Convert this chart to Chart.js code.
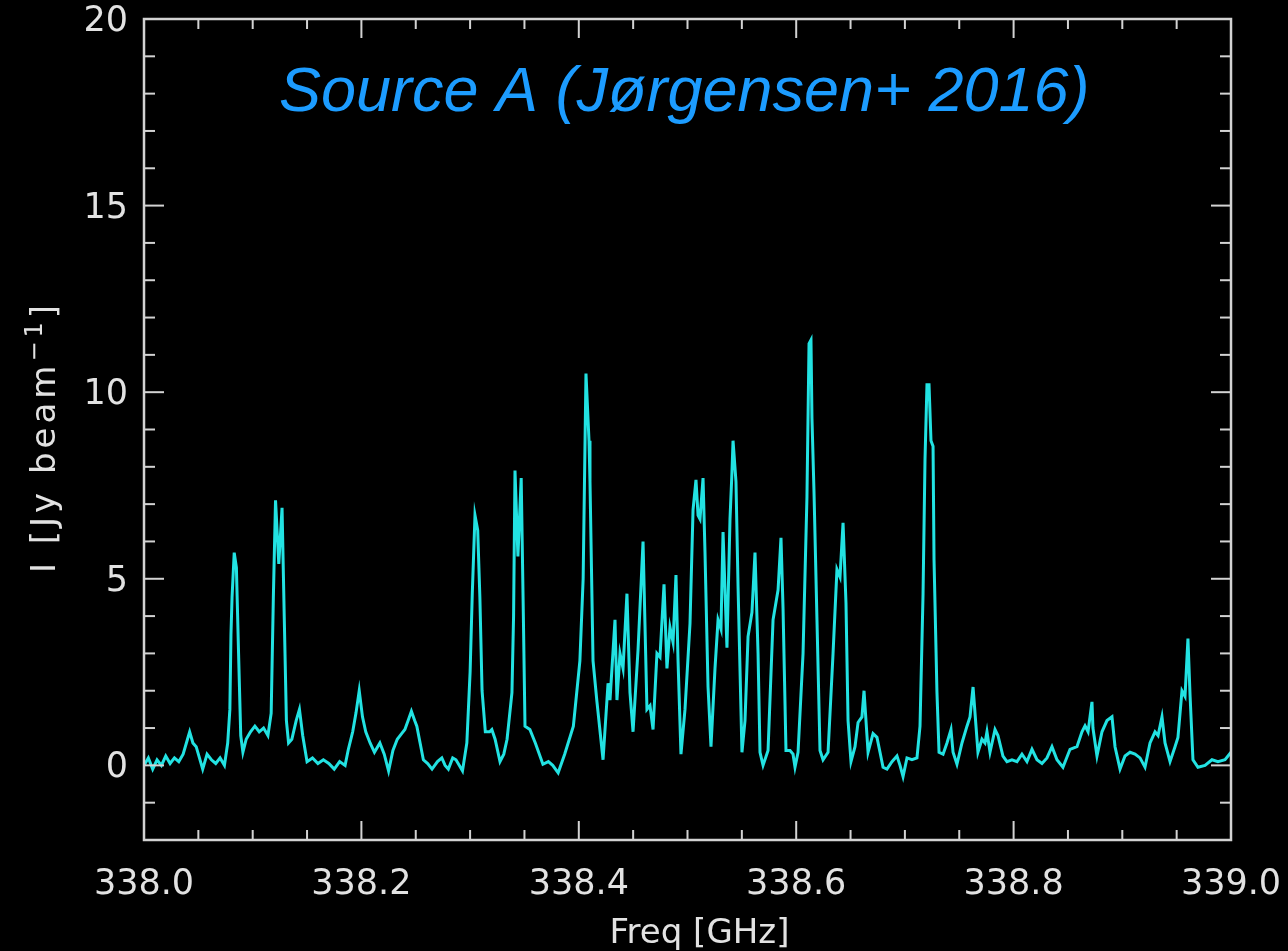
<!DOCTYPE html>
<html>
<head>
<meta charset="utf-8">
<title>Source A spectrum</title>
<script src="https://cdn.jsdelivr.net/npm/chart.js@4.4.1/dist/chart.umd.min.js"></script>
<style>
  html, body { margin: 0; padding: 0; background: #000; }
  #wrap { width: 1288px; height: 951px; }
</style>
</head>
<body>
<div id="wrap"><canvas id="spec" width="1288" height="951"></canvas></div>
<script>
// Spectre : fréquence (GHz) et intensité (Jy/beam)
var freq = [
  338.000, 338.004, 338.008, 338.012, 338.016, 338.020, 338.024, 338.028, 338.032, 338.036,
  338.040, 338.042, 338.045, 338.048, 338.052, 338.054, 338.058, 338.062, 338.066, 338.070,
  338.074, 338.077, 338.079, 338.080, 338.081, 338.083, 338.085, 338.087, 338.089, 338.091,
  338.094, 338.098, 338.102, 338.106, 338.110, 338.114, 338.117, 338.119, 338.121, 338.124,
  338.127, 338.129, 338.131, 338.133, 338.136, 338.140, 338.143, 338.146, 338.150, 338.155,
  338.160, 338.165, 338.170, 338.175, 338.180, 338.185, 338.188, 338.192, 338.195, 338.198,
  338.201, 338.204, 338.208, 338.212, 338.217, 338.221, 338.225, 338.229, 338.233, 338.237,
  338.240, 338.243, 338.246, 338.249, 338.251, 338.254, 338.257, 338.261, 338.265, 338.270,
  338.274, 338.277, 338.280, 338.284, 338.287, 338.290, 338.293, 338.297, 338.300, 338.302,
  338.3045, 338.307, 338.309, 338.311, 338.314, 338.318, 338.320, 338.323, 338.3275, 338.331,
  338.334, 338.3385, 338.340, 338.3413, 338.344, 338.347, 338.349, 338.3505, 338.355, 338.360,
  338.367, 338.372, 338.376, 338.381, 338.387, 338.395, 338.401, 338.404, 338.4066, 338.4094,
  338.4103, 338.4131, 338.4167, 338.4223, 338.4269, 338.4287, 338.4333, 338.4351, 338.4379, 338.4407,
  338.4443, 338.4471, 338.4499, 338.4545, 338.4591, 338.4627, 338.4655, 338.4683, 338.4719, 338.4747,
  338.4784, 338.4811, 338.4839, 338.4867, 338.4894, 338.4913, 338.4940, 338.4977, 338.5023, 338.5051,
  338.5078, 338.5097, 338.5115, 338.5143, 338.5161, 338.5189, 338.5216, 338.5253, 338.5281, 338.5308,
  338.5327, 338.5363, 338.5391, 338.5409, 338.5419, 338.5446, 338.5465, 338.5501, 338.5529, 338.5557,
  338.5593, 338.5621, 338.5649, 338.5667, 338.5695, 338.5741, 338.5787, 338.5833, 338.5860, 338.5879,
  338.5906, 338.5943, 338.5971, 338.5989, 338.6017, 338.6063, 338.6099, 338.6118, 338.6136, 338.6145,
  338.6164, 338.6191, 338.6219, 338.6247, 338.6293, 338.6339, 338.6375, 338.6403, 338.6431, 338.6458,
  338.6477, 338.6504, 338.6541, 338.6569, 338.6605, 338.6624, 338.6651, 338.6661, 338.6707, 338.6743,
  338.6771, 338.6799, 338.6835, 338.6881, 338.6927, 338.6955, 338.6983, 338.7019, 338.7065, 338.7111,
  338.7139, 338.7167, 338.7185, 338.7203, 338.7222, 338.7240, 338.7259, 338.7268, 338.7295, 338.7314,
  338.7351, 338.7387, 338.7424, 338.7443, 338.7479, 338.7525, 338.7571, 338.7599, 338.7627, 338.7654,
  338.7672, 338.7709, 338.7737, 338.7755, 338.7783, 338.7829, 338.7856, 338.7902, 338.7939, 338.7985,
  338.8031, 338.8077, 338.8123, 338.8169, 338.8215, 338.8261, 338.8307, 338.8353, 338.8399, 338.8454,
  338.8519, 338.8583, 338.8629, 338.8657, 338.8685, 338.8721, 338.8730, 338.8767, 338.8813, 338.8859,
  338.8905, 338.8933, 338.8979, 338.9025, 338.9071, 338.9117, 338.9163, 338.9209, 338.9255, 338.9301,
  338.9329, 338.9365, 338.9393, 338.9439, 338.9485, 338.9512, 338.9549, 338.9577, 338.9604, 338.9623,
  338.9650, 338.9696, 338.9761, 338.9825, 338.9880, 338.9945, 339.0000
];

var intensity = [
  0.0, 0.2, -0.1, 0.15, 0.0, 0.25, 0.05, 0.2, 0.1, 0.3,
  0.7, 0.9, 0.6, 0.5, 0.1, -0.1, 0.3, 0.15, 0.05, 0.2,
  0.0, 0.6, 1.5, 3.5, 4.5, 5.7, 5.3, 3.0, 0.8, 0.35,
  0.7, 0.9, 1.05, 0.9, 1.0, 0.8, 1.4, 4.5, 7.1, 5.4,
  6.9, 4.0, 1.2, 0.6, 0.7, 1.2, 1.5, 0.8, 0.1, 0.2,
  0.05, 0.15, 0.05, -0.1, 0.1, 0.0, 0.43, 0.9, 1.4, 2.0,
  1.3, 0.9, 0.6, 0.35, 0.6, 0.3, -0.15, 0.4, 0.7, 0.85,
  0.96, 1.2, 1.45, 1.2, 1.05, 0.6, 0.15, 0.05, -0.1, 0.1,
  0.2, 0.0, -0.1, 0.2, 0.15, 0.0, -0.15, 0.6, 2.5, 4.6,
  6.7, 6.3, 4.5, 2.0, 0.9, 0.9, 0.96, 0.7, 0.1, 0.3,
  0.7, 1.95, 4.0, 7.9, 5.6, 7.7, 4.0, 1.05, 0.96, 0.6,
  0.03, 0.1, 0.0, -0.2, 0.3, 1.05, 2.8, 5.0, 10.5, 8.7,
  7.6, 2.8, 1.7, 0.15, 2.2, 1.75, 3.9, 1.75, 3.0, 2.6,
  4.6, 1.95, 0.9, 3.1, 6.0, 1.5, 1.6, 0.96, 3.0, 2.9,
  4.85, 2.6, 3.7, 3.3, 5.1, 2.8, 0.3, 1.5, 3.8, 6.85,
  7.65, 6.7, 6.6, 7.7, 5.7, 2.1, 0.5, 2.6, 3.9, 3.65,
  6.25, 3.15, 6.6, 7.85, 8.7, 7.6, 4.8, 0.35, 1.2, 3.45,
  4.1, 5.7, 3.0, 0.35, 0.0, 0.4, 3.9, 4.7, 6.1, 4.2,
  0.4, 0.4, 0.3, -0.05, 0.35, 3.0, 7.2, 11.3, 11.4, 9.3,
  7.3, 3.9, 0.4, 0.15, 0.35, 3.0, 5.25, 5.05, 6.5, 4.35,
  1.2, 0.1, 0.5, 1.15, 1.3, 2.0, 0.8, 0.35, 0.85, 0.75,
  0.35, -0.05, -0.1, 0.1, 0.25, 0.0, -0.3, 0.2, 0.15, 0.2,
  1.05, 4.6, 8.2, 10.2, 10.2, 8.7, 8.55, 5.5, 1.95, 0.35,
  0.3, 0.6, 0.96, 0.35, 0.03, 0.6, 1.05, 1.3, 2.1, 1.05,
  0.35, 0.7, 0.6, 0.9, 0.35, 0.96, 0.8, 0.25, 0.1, 0.15,
  0.1, 0.3, 0.1, 0.43, 0.15, 0.05, 0.2, 0.5, 0.15, -0.05,
  0.43, 0.5, 0.9, 1.06, 0.9, 1.7, 1.0, 0.25, 0.9, 1.2,
  1.3, 0.5, -0.1, 0.25, 0.35, 0.3, 0.2, -0.05, 0.6, 0.9,
  0.8, 1.3, 0.6, 0.1, 0.5, 0.75, 2.0, 1.85, 3.4, 1.9,
  0.15, -0.05, 0.0, 0.15, 0.1, 0.15, 0.35
];

// Graduations des axes
var xMajorTicks = [338.0, 338.2, 338.4, 338.6, 338.8, 339.0];
var xMinorTicks = [338.05, 338.1, 338.15, 338.25, 338.3, 338.35, 338.45, 338.5, 338.55,
                   338.65, 338.7, 338.75, 338.85, 338.9, 338.95];
var yMajorTicks = [0, 5, 10, 15, 20];
var yMinorTicks = [-2, -1, 1, 2, 3, 4, 6, 7, 8, 9, 11, 12, 13, 14, 16, 17, 18, 19];

var plotTitle = "Source A (Jørgensen+ 2016)";
var xLabel = "Freq [GHz]";
var yLabelMain = "I [Jy beam";
var yLabelSup = "\u22121";
var yLabelEnd = "]";

var axisColor = "#d2d2d2";
var textColor = "#e2e2e2";
var lineColor = "#22e2e2";
var labelFont = { family: "DejaVu Sans", size: 35, lineHeight: 1 };

// Cadre, graduations vers l'intérieur sur les quatre côtés, titres
var frameTicks = {
  id: "frameTicks",
  afterDraw: function(chart) {
    var ctx = chart.ctx;
    var a = chart.chartArea;
    var xs = chart.scales.x;
    var ys = chart.scales.y;

    ctx.save();
    ctx.strokeStyle = axisColor;
    ctx.lineWidth = 2.5;
    ctx.strokeRect(a.left, a.top, a.right - a.left, a.bottom - a.top);

    ctx.lineWidth = 2;
    function seg(x1, y1, x2, y2) {
      ctx.beginPath();
      ctx.moveTo(x1, y1);
      ctx.lineTo(x2, y2);
      ctx.stroke();
    }
    function xTick(v, len) {
      var px = xs.getPixelForValue(v);
      seg(px, a.bottom, px, a.bottom - len);
      seg(px, a.top, px, a.top + len);
    }
    function yTick(v, len) {
      var py = ys.getPixelForValue(v);
      seg(a.left, py, a.left + len, py);
      seg(a.right, py, a.right - len, py);
    }
    xMajorTicks.forEach(function(v) { xTick(v, 19); });
    xMinorTicks.forEach(function(v) { xTick(v, 10); });
    yMajorTicks.forEach(function(v) { yTick(v, 20); });
    yMinorTicks.forEach(function(v) { yTick(v, 11); });

    // Titre dans le cadre
    ctx.fillStyle = "#1c9cff";
    ctx.font = "italic 63px 'Liberation Sans', Arial, sans-serif";
    ctx.textAlign = "center";
    ctx.textBaseline = "alphabetic";
    ctx.fillText(plotTitle, xs.getPixelForValue(338.497), ys.getPixelForValue(17.54));

    // Titre de l'axe x
    ctx.fillStyle = textColor;
    ctx.font = "34px 'DejaVu Sans'";
    ctx.fillText(xLabel, xs.getPixelForValue(338.511), 943);

    // Titre de l'axe y (tourné), avec exposant
    ctx.translate(55, ys.getPixelForValue(8.8));
    ctx.rotate(-Math.PI / 2);
    ctx.textAlign = "left";
    ctx.letterSpacing = "4px";
    ctx.font = "34px 'DejaVu Sans'";
    var w1 = ctx.measureText(yLabelMain).width;
    ctx.font = "24px 'DejaVu Sans'";
    var w2 = ctx.measureText(yLabelSup).width;
    ctx.font = "34px 'DejaVu Sans'";
    var w3 = ctx.measureText(yLabelEnd).width;
    var x0 = -(w1 + w2 + w3) / 2;
    ctx.fillText(yLabelMain, x0, 0);
    ctx.font = "24px 'DejaVu Sans'";
    ctx.fillText(yLabelSup, x0 + w1, -13);
    ctx.font = "34px 'DejaVu Sans'";
    ctx.fillText(yLabelEnd, x0 + w1 + w2, 0);
    ctx.restore();
  }
};

var points = freq.map(function(f, i) {
  return { x: f, y: intensity[i] };
});

new Chart(document.getElementById("spec"), {
  type: "line",
  data: {
    datasets: [{
      data: points,
      borderColor: lineColor,
      borderWidth: 3,
      pointRadius: 0,
      tension: 0,
      fill: false
    }]
  },
  options: {
    responsive: false,
    animation: false,
    devicePixelRatio: 1,
    layout: { padding: { left: 0, right: 57, top: 19, bottom: 0 } },
    plugins: {
      legend: { display: false },
      tooltip: { enabled: false }
    },
    scales: {
      x: {
        type: "linear",
        min: 338,
        max: 339,
        afterBuildTicks: function(scale) {
          scale.ticks = xMajorTicks.map(function(v) { return { value: v }; });
        },
        afterFit: function(scale) {
          scale.height = 111;
          scale.paddingLeft = 0;
          scale.paddingRight = 0;
        },
        ticks: {
          color: textColor,
          font: labelFont,
          padding: 27,
          maxRotation: 0,
          autoSkip: false,
          callback: function(v) { return Number(v).toFixed(1); }
        },
        grid: { display: false, drawTicks: false },
        border: { display: false }
      },
      y: {
        type: "linear",
        min: -2,
        max: 20,
        afterBuildTicks: function(scale) {
          scale.ticks = yMajorTicks.map(function(v) { return { value: v }; });
        },
        afterFit: function(scale) {
          scale.width = 144;
          scale.paddingTop = 0;
          scale.paddingBottom = 0;
        },
        ticks: {
          color: textColor,
          font: labelFont,
          padding: 16,
          labelOffset: 3,
          callback: function(v) { return String(v); }
        },
        grid: { display: false, drawTicks: false },
        border: { display: false }
      }
    }
  },
  plugins: [frameTicks]
});
</script>
</body>
</html>
